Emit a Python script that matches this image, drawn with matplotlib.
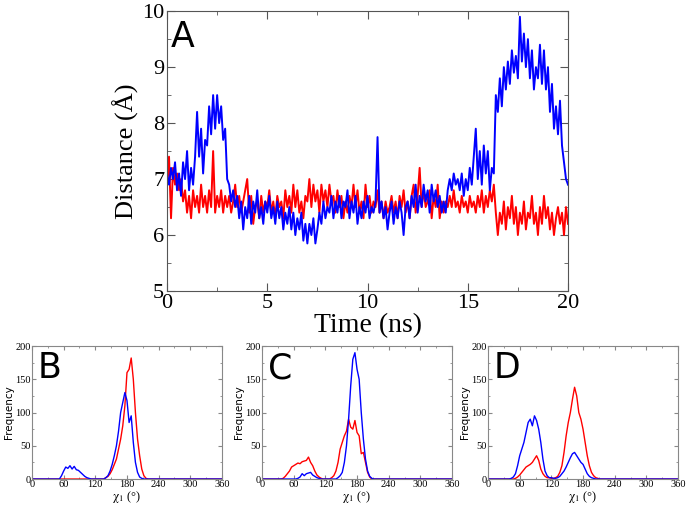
import numpy as np
import matplotlib.pyplot as plt
from matplotlib.ticker import MultipleLocator

plt.rcParams['mathtext.fontset'] = 'stix'

# --- Panel A: distance vs time (ns), sampled every 0.1 ns ---
time_ns = np.round(np.arange(0, 20.05, 0.1), 2)

dist_blue = [
    7.1, 6.9, 7.2, 7.0, 7.3, 6.8, 7.1, 6.7, 7.3, 7.0,
    7.5, 6.8, 7.2, 6.9, 7.4, 8.2, 7.4, 7.9, 7.1, 7.7,
    7.6, 8.3, 7.8, 8.5, 7.9, 8.5, 8.0, 8.3, 7.7, 7.9,
    7.0, 6.9, 6.6, 6.8, 6.5, 6.7, 6.3, 6.6, 6.1, 6.5,
    6.3, 6.7, 6.2, 6.6, 6.4, 6.8, 6.3, 6.5, 6.2, 6.6,
    6.4, 6.7, 6.3, 6.5, 6.2, 6.6, 6.3, 6.5, 6.1, 6.4,
    6.2, 6.5, 6.1, 6.4, 6.0, 6.3, 6.1, 6.4, 5.9, 6.2,
    5.85, 6.2, 6.0, 6.3, 5.85, 6.1, 6.4, 6.2, 6.6, 6.3,
    6.5, 6.4, 6.7, 6.3, 6.6, 6.4, 6.7, 6.3, 6.6, 6.5,
    6.8, 6.3, 6.6, 6.4, 6.7, 6.2, 6.5, 6.3, 6.6, 6.4,
    6.7, 6.3, 6.5, 6.4, 6.6, 7.75, 6.4, 6.6, 6.3, 6.5,
    6.1, 6.4, 6.6, 6.2, 6.5, 6.3, 6.6, 6.4, 6.0, 6.5,
    6.6, 6.3, 6.7, 6.5, 6.9, 6.4, 6.7, 6.5, 6.9, 6.6,
    6.8, 6.4, 6.9, 6.6, 6.8, 6.5, 6.7, 6.4, 6.6, 6.4,
    6.8, 7.0, 6.8, 7.1, 6.9, 7.0, 6.8, 7.1, 6.7, 7.0,
    6.8, 7.2, 6.9, 7.4, 7.9, 7.0, 7.5, 6.9, 7.6, 7.1,
    7.5, 6.8, 7.2, 7.1, 8.5, 8.2, 8.8, 8.3, 9.0, 8.6,
    9.1, 8.7, 9.3, 8.9, 9.2, 8.8, 9.9, 9.1, 9.6, 9.0,
    9.5, 8.8, 9.3, 8.6, 9.0, 8.8, 9.4, 8.7, 9.3, 8.6,
    9.0, 8.2, 8.7, 7.9, 8.3, 7.8, 8.4, 7.6, 7.3, 7.0,
    6.9,
]

dist_red = [
    6.9, 7.4, 6.3, 7.2, 6.9, 7.1, 6.8, 7.0, 6.6, 6.8,
    6.4, 6.7, 6.3, 6.8, 6.5, 6.7, 6.4, 6.9, 6.5, 6.7,
    6.4, 6.8, 6.5, 7.5, 6.4, 6.7, 6.5, 6.8, 6.4, 6.7,
    6.5, 6.7, 6.4, 6.6, 6.9, 6.5, 6.7, 6.4, 6.6, 6.8,
    7.0, 6.4, 6.7, 6.2, 6.5, 6.6, 6.3, 6.7, 6.4, 6.6,
    6.5, 6.8, 6.4, 6.6, 6.3, 6.7, 6.5, 6.6, 6.3, 6.8,
    6.5, 6.7, 6.4, 6.9, 6.5, 6.8, 6.4, 6.6, 6.3, 6.7,
    6.6, 7.0, 6.5, 6.9, 6.6, 6.8, 6.4, 6.9, 6.6, 6.8,
    6.5, 6.9, 6.6, 6.7, 6.4, 6.8, 6.5, 6.7, 6.3, 6.6,
    6.4, 6.7, 6.5, 6.9, 6.5, 6.8, 6.4, 6.6, 6.3, 6.9,
    6.5, 6.7, 6.4, 6.6, 6.5, 6.8, 6.4, 6.6, 6.3, 6.6,
    6.4, 6.5, 6.7, 6.4, 6.6, 6.3, 6.7, 6.5, 6.8, 6.4,
    6.6, 6.3, 6.7, 6.9, 6.4, 6.7, 7.2, 6.5, 6.8, 6.5,
    6.6, 6.8, 6.3, 6.7, 6.5, 6.9, 6.3, 6.6, 6.4, 6.6,
    6.5, 6.7, 6.5, 6.8, 6.5, 6.6, 6.4, 6.7, 6.5, 6.6,
    6.4, 6.7, 6.5, 6.6, 6.4, 6.7, 6.5, 6.8, 6.4, 6.7,
    6.5, 6.8, 6.6, 6.9, 6.4, 6.0, 6.4, 6.2, 6.6, 6.1,
    6.5, 6.3, 6.7, 6.2, 6.5, 6.0, 6.4, 6.2, 6.6, 6.1,
    6.4, 6.3, 6.7, 6.2, 6.4, 6.0, 6.5, 6.2, 6.7, 6.3,
    6.5, 6.1, 6.4, 6.0, 6.3, 6.5, 6.2, 6.4, 6.0, 6.5,
    6.2,
]

# --- Panels B, C, D: chi1 histograms, 4 degree bins ---
chi = np.arange(0, 361, 4)


def place(start, vals):
    # counts listed from angle `start`, zero elsewhere
    out = np.zeros(len(chi))
    i = int(start // 4)
    out[i:i + len(vals)] = vals
    return out


b_blue = place(56, [5, 12, 18, 16, 20, 15, 19, 14, 13, 10, 7, 4, 2, 1, 0,
                    0, 0, 0, 0, 0, 0, 2, 5, 12, 22, 35, 50, 72, 100, 115,
                    130, 118, 85, 95, 55, 25, 10, 3, 1])
b_red = place(140, [2, 4, 8, 14, 22, 30, 45, 60, 80, 110, 160, 165, 182,
                    150, 100, 60, 35, 15, 5, 1])

c_red = place(40, [1, 4, 8, 12, 18, 20, 22, 24, 23, 26, 27, 28, 33, 25, 20,
                   12, 6, 3, 1, 0, 0, 0, 0, 2, 5, 12, 25, 45, 55, 65, 72,
                   90, 78, 75, 88, 70, 65, 38, 40, 25, 10, 3])
c_blue = place(68, [1, 3, 8, 5, 8, 9, 10, 6, 4, 2, 1, 0, 0, 0, 0, 0, 0, 0,
                    0, 2, 5, 10, 25, 50, 90, 140, 180, 190, 165, 150, 100,
                    60, 30, 12, 4, 1])

d_blue = place(44, [1, 3, 8, 20, 35, 45, 55, 70, 85, 90, 80, 95, 88, 75, 55,
                    30, 12, 5, 2, 2, 1, 1, 2, 4, 8, 12, 18, 25, 32, 38, 40,
                    35, 30, 25, 22, 15, 8, 4, 2, 1])
d_red = place(52, [1, 3, 6, 10, 14, 18, 20, 22, 25, 30, 35, 28, 15, 8, 4, 2,
                   2, 1, 1, 2, 4, 10, 20, 40, 65, 85, 100, 120, 138, 125,
                   100, 90, 75, 55, 35, 20, 10, 5, 2, 1])

hists = [("B", b_red, b_blue), ("C", c_red, c_blue), ("D", d_red, d_blue)]

serif = "Liberation Serif"
fig = plt.figure(figsize=(6.89, 5.07), dpi=100)

ax = fig.add_axes([0.2424, 0.426, 0.582, 0.552])
ax.plot(time_ns, dist_red, color="#ff0000", lw=1.4)
ax.plot(time_ns, dist_blue, color="#0000ff", lw=1.4)
ax.set_xlim(0, 20)
ax.set_ylim(5, 10)
ax.xaxis.set_major_locator(MultipleLocator(5))
ax.xaxis.set_minor_locator(MultipleLocator(2.5))
ax.yaxis.set_major_locator(MultipleLocator(1))
ax.yaxis.set_minor_locator(MultipleLocator(0.5))
ax.tick_params(which="both", direction="in", top=True, right=True,
               color="#555555")
ax.tick_params(which="major", length=6, labelsize=16, pad=2)
ax.tick_params(which="minor", length=3)
for lab in ax.get_xticklabels() + ax.get_yticklabels():
    lab.set_family(serif)
for s in ax.spines.values():
    s.set_color("#555555")
ax.set_xlabel("Time (ns)", family=serif, fontsize=20, labelpad=0)
ax.set_ylabel("Distance (Å)", family=serif, fontsize=19, labelpad=2)
ax.text(0.01, 0.97, "A", transform=ax.transAxes, fontsize=25,
        family="DejaVu Sans", va="top", ha="left")

lefts = [0.0464, 0.3803, 0.7083]
for (letter, red, blue), left in zip(hists, lefts):
    a = fig.add_axes([left, 0.0552, 0.2758, 0.2623])
    a.plot(chi, red, color="#ff0000", lw=1.0)
    a.plot(chi, blue, color="#0000ff", lw=1.0)
    a.set_xlim(0, 360)
    a.set_ylim(0, 200)
    a.xaxis.set_major_locator(MultipleLocator(60))
    a.xaxis.set_minor_locator(MultipleLocator(30))
    a.yaxis.set_major_locator(MultipleLocator(50))
    a.yaxis.set_minor_locator(MultipleLocator(25))
    a.tick_params(which="both", direction="in", top=True, right=True,
                  color="#888888")
    a.tick_params(which="major", length=3, labelsize=7.5, pad=1)
    a.tick_params(which="minor", length=1.5)
    for lab in a.get_xticklabels() + a.get_yticklabels():
        lab.set_family(serif)
    for s in a.spines.values():
        s.set_color("#888888")
    a.set_xlabel(r"$\mathrm{\chi}_1$ (°)", family=serif, fontsize=9,
                 labelpad=0)
    a.set_ylabel("Frequency", family="DejaVu Sans", fontsize=7.5, labelpad=1)
    a.text(0.03, 0.96, letter, transform=a.transAxes, fontsize=25,
           family="DejaVu Sans", va="top", ha="left")

fig.savefig("out.png", dpi=100)
